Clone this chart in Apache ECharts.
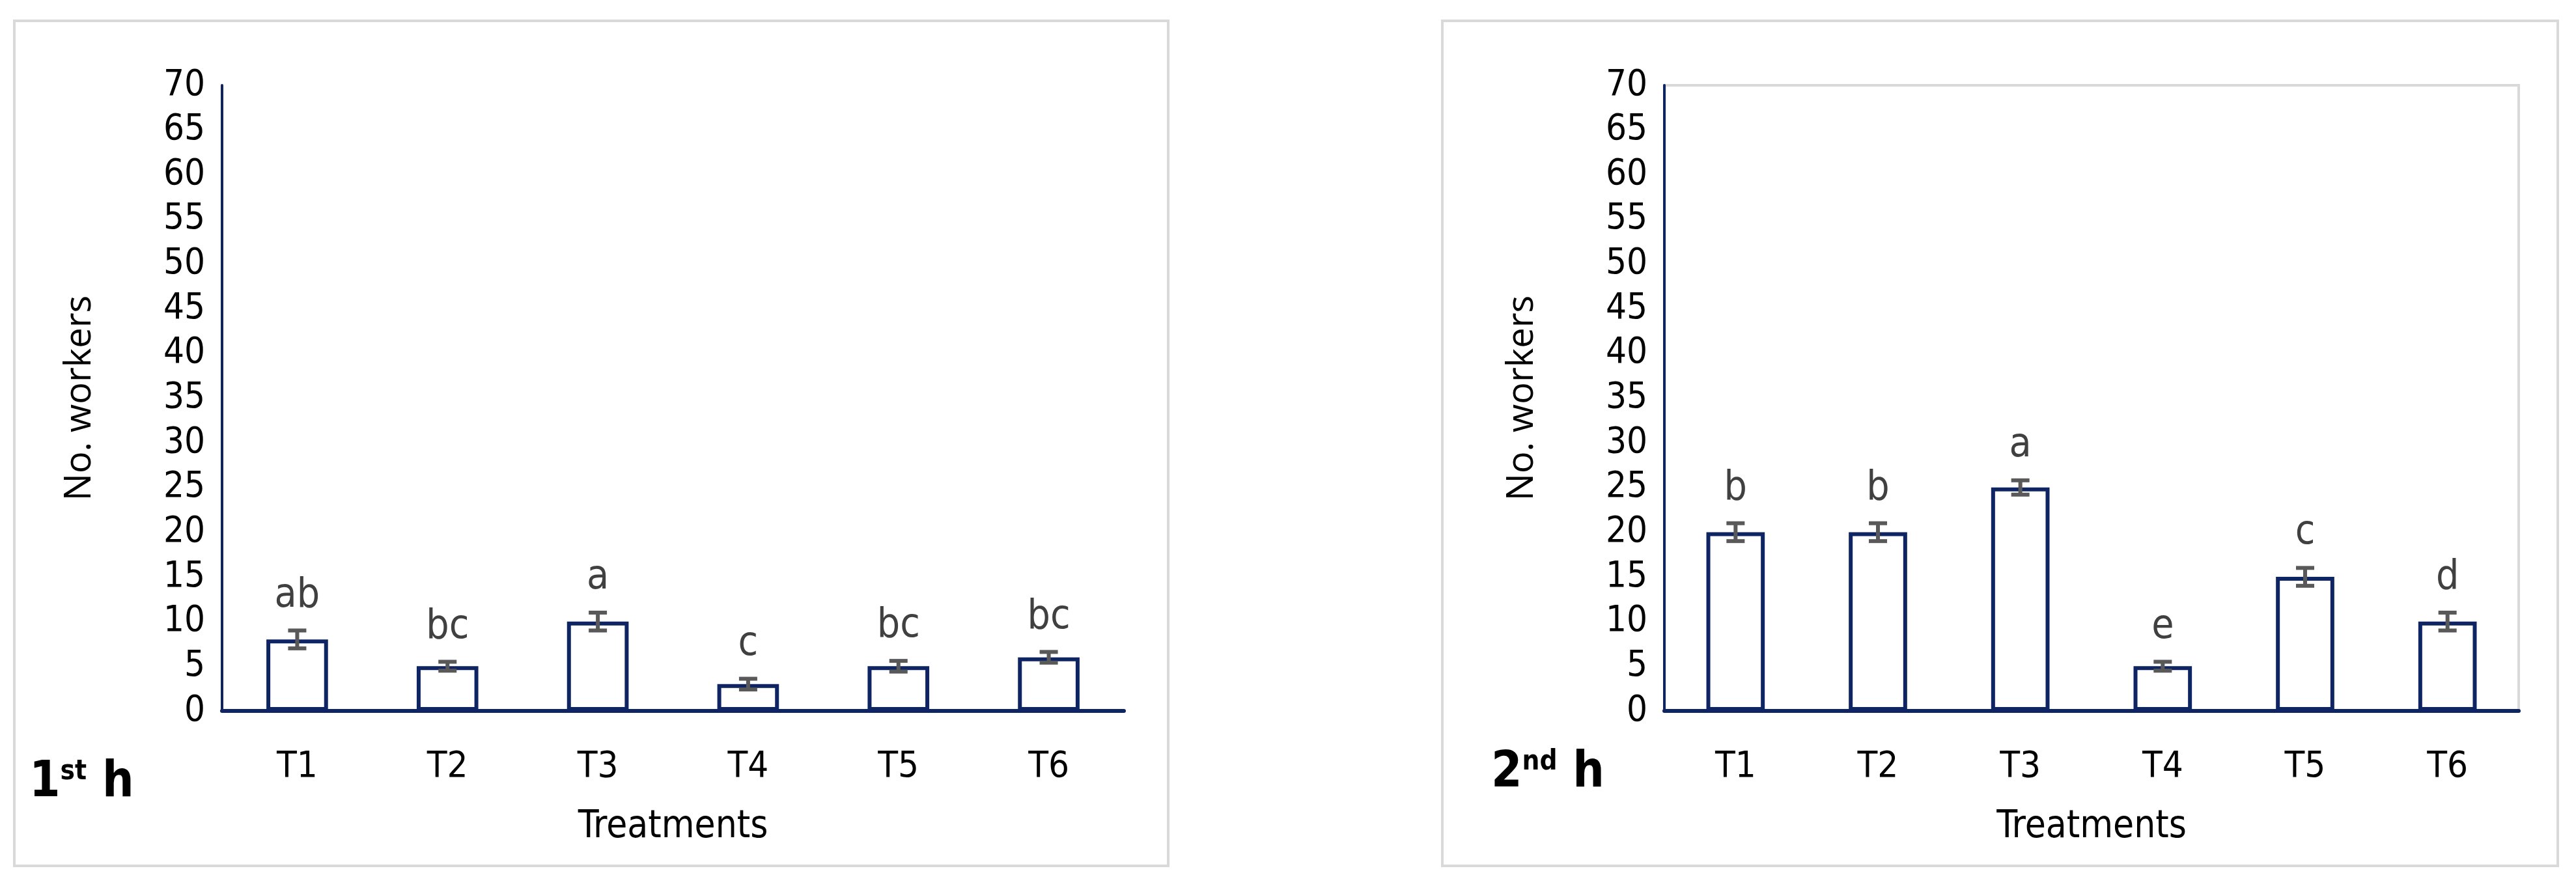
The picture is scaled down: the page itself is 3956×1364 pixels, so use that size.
<!DOCTYPE html>
<html><head><meta charset="utf-8">
<script src="https://cdn.jsdelivr.net/npm/echarts@6/dist/echarts.min.js"></script>
<style>html,body{margin:0;background:#fff}#c{width:3956px;height:1364px}</style>
</head><body><div id="c"></div>
<script>
const categories = ['T1','T2','T3','T4','T5','T6'];
const yTicks = [0,5,10,15,20,25,30,35,40,45,50,55,60,65,70];
const h1Values = [8,5,10,3,5,6];
const h1Errors = [1,0.5,1,0.6,0.6,0.6];
const h1Letters = ['ab','bc','a','c','bc','bc'];
const h2Values = [20,20,25,5,15,10];
const h2Errors = [1,1,0.8,0.5,1,1];
const h2Letters = ['b','b','a','e','c','d'];

const F = '"DejaVu Sans Condensed","Liberation Sans",sans-serif';
const navy = '#0e2463';
const chart = echarts.init(document.getElementById('c'));
function axes(i){
  return {
    x:{type:'category',data:categories,gridIndex:i,
      axisLine:{lineStyle:{color:navy,width:6}},axisTick:{show:false},
      axisLabel:{color:'#000',fontSize:56,fontFamily:F,margin:58},
      name:'Treatments',nameLocation:'middle',nameGap:150,
      nameTextStyle:{color:'#000',fontSize:58,fontFamily:F}},
    y:{type:'value',min:0,max:70,interval:5,gridIndex:i,
      axisLine:{show:true,lineStyle:{color:navy,width:4}},axisTick:{show:false},
      splitLine:{show:false},
      axisLabel:{color:'#000',fontSize:56,fontFamily:F,margin:26},
      name:'No. workers',nameLocation:'middle',nameGap:190,
      nameTextStyle:{color:'#000',fontSize:56,fontFamily:'"Open Sans",sans-serif'}}
  };
}
const a0=axes(0), a1=axes(1);
function errSeries(i, vals, errs, letters){
  return {type:'custom',xAxisIndex:i,yAxisIndex:i,z:5,
    data:vals.map((v,k)=>[k,v,errs[k]]),
    renderItem:(params,api)=>{
      const k=api.value(0),v=api.value(1),e=api.value(2);
      const top=api.coord([k,v+e]),bot=api.coord([k,v-e]);
      const x=top[0],cw=14;
      const st={stroke:'#595959',lineWidth:6};
      return {type:'group',children:[
        {type:'line',shape:{x1:x,y1:top[1],x2:x,y2:bot[1]},style:st},
        {type:'line',shape:{x1:x-cw,y1:top[1],x2:x+cw,y2:top[1]},style:st},
        {type:'line',shape:{x1:x-cw,y1:bot[1],x2:x+cw,y2:bot[1]},style:st},
        {type:'text',style:{x:x,y:top[1]-22,text:letters[k],textAlign:'center',textVerticalAlign:'bottom',
          fontSize:62,fontFamily:F,fill:'#404040'}}
      ]};
    }};
}
function barSeries(i, vals){
  return {type:'bar',xAxisIndex:i,yAxisIndex:i,data:vals,barWidth:'41%',
    itemStyle:{color:'#fff',borderColor:navy,borderWidth:6}};
}
chart.setOption({
  animation:false,
  grid:[
    {left:341,top:131,width:1385,height:961},
    {left:2556,top:131,width:1312,height:961,show:true,borderColor:'#d9d9d9',borderWidth:4,backgroundColor:'transparent'}
  ],
  xAxis:[a0.x,a1.x], yAxis:[a0.y,a1.y],
  series:[barSeries(0,h1Values),errSeries(0,h1Values,h1Errors,h1Letters),
          barSeries(1,h2Values),errSeries(1,h2Values,h2Errors,h2Letters)],
  graphic:[
    {type:'rect',shape:{x:22,y:32,width:1772,height:1298},style:{fill:'none',stroke:'#d9d9d9',lineWidth:4}},
    {type:'rect',shape:{x:2215,y:32,width:1713,height:1298},style:{fill:'none',stroke:'#d9d9d9',lineWidth:4}},
    {type:'text',left:45,top:1165,style:{text:'{b|1}{s|st}{b| h}',rich:{
      b:{fontSize:76,fontWeight:'bold',fontFamily:F,fill:'#000',verticalAlign:'bottom'},
      s:{fontSize:42,fontWeight:'bold',fontFamily:F,fill:'#000',verticalAlign:'top',padding:[0,0,30,0]}}}},
    {type:'text',left:2290,top:1150,style:{text:'{b|2}{s|nd}{b| h}',rich:{
      b:{fontSize:76,fontWeight:'bold',fontFamily:F,fill:'#000',verticalAlign:'bottom'},
      s:{fontSize:42,fontWeight:'bold',fontFamily:F,fill:'#000',verticalAlign:'top',padding:[0,0,30,0]}}}}
  ]
});
</script></body></html>
